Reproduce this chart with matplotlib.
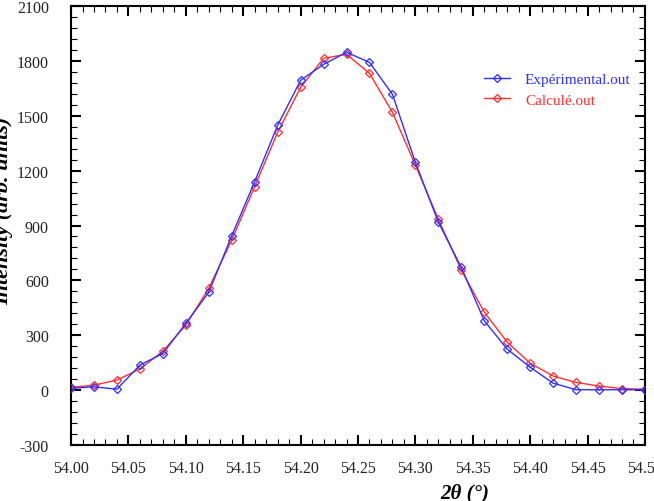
import matplotlib
matplotlib.use("Agg")
import matplotlib.pyplot as plt
from matplotlib.ticker import MultipleLocator, FormatStrFormatter

two_theta = [54.00, 54.02, 54.04, 54.06, 54.08, 54.10, 54.12, 54.14, 54.16, 54.18,
             54.20, 54.22, 54.24, 54.26, 54.28, 54.30, 54.32, 54.34, 54.36, 54.38,
             54.40, 54.42, 54.44, 54.46, 54.48, 54.50]
experimental = [10, 18, 5, 137, 200, 365, 535, 844, 1140, 1448,
                1694, 1781, 1847, 1792, 1617, 1245, 918, 671, 379, 224,
                125, 38, 2, 2, 2, 2]
calcule = [15, 27, 55, 115, 213, 355, 557, 820, 1113, 1410,
           1655, 1814, 1836, 1732, 1519, 1230, 934, 656, 426, 262,
           147, 77, 42, 22, 8, 5]

plt.rcParams['font.family'] = ['Liberation Serif', 'DejaVu Serif']
plt.rcParams['axes.unicode_minus'] = False

fig = plt.figure(figsize=(6.54, 5.02), dpi=100)
ax = fig.add_axes([0.1086, 0.1116, 0.8776, 0.8744])

blue = '#3030ff'
red = '#ff3030'
ax.plot(two_theta, experimental, color=blue, lw=1.0, marker='D', ms=4.5,
        mfc='none', mec=blue, mew=0.9, label='Expérimental.out', zorder=3)
ax.plot(two_theta, calcule, color=red, lw=1.0, marker='D', ms=4.5,
        mfc='none', mec=red, mew=0.9, label='Calculé.out', zorder=2)

ax.set_xlim(54.0, 54.5)
ax.set_ylim(-300, 2100)
ax.xaxis.set_major_locator(MultipleLocator(0.05))
ax.xaxis.set_minor_locator(MultipleLocator(0.01))
ax.yaxis.set_major_locator(MultipleLocator(300))
ax.yaxis.set_minor_locator(MultipleLocator(60))
ax.xaxis.set_major_formatter(FormatStrFormatter('%.2f'))
ax.tick_params(which='both', direction='in', top=True, right=True,
               labelsize=11.5, labelcolor='#222222')
ax.tick_params(which='major', length=7, width=1.5)
ax.tick_params(which='minor', length=4, width=0.8)
ax.tick_params(axis='x', pad=11)
ax.tick_params(axis='y', pad=16)
for s in ax.spines.values():
    s.set_linewidth(1.5)

ax.set_xlabel('2θ (°)', fontsize=15, fontweight='bold', fontstyle='italic')
ax.xaxis.set_label_coords(0.686, -0.085)
fig.text(0.005, 0.58, 'Intensity (arb. units)', rotation=90, ha='center', va='center',
         fontsize=16, fontweight='bold', fontstyle='italic')

leg = ax.legend(loc='upper left', bbox_to_anchor=(0.695, 0.88), frameon=False,
                fontsize=11, handlelength=1.7, handletextpad=1.0, labelspacing=0.45)
for t, c in zip(leg.get_texts(), [blue, red]):
    t.set_color(c)

fig.savefig('out.png', dpi=100)
